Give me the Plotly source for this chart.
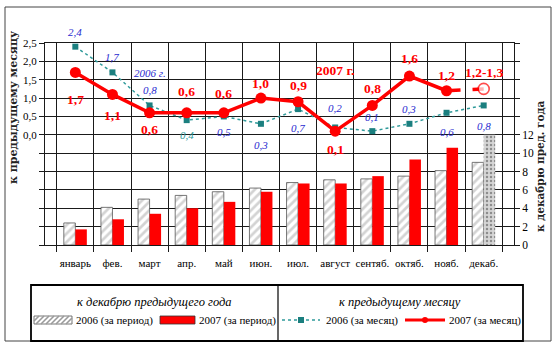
import plotly.graph_objects as go

# ---------------- data ----------------
months = ["январь", "фев.", "март", "апр.", "май", "июн.", "июл.", "август",
          "сентяб.", "октяб.", "нояб.", "декаб."]
cum_2006 = [2.4, 4.1, 5.0, 5.4, 5.8, 6.2, 6.8, 7.1, 7.2, 7.5, 8.1, 9.0]
cum_2007 = [1.7, 2.8, 3.4, 4.0, 4.7, 5.8, 6.7, 6.7, 7.5, 9.3, 10.6, 12.0]  # Dec = forecast
mom_2006 = [2.4, 1.7, 0.8, 0.4, 0.5, 0.3, 0.7, 0.2, 0.1, 0.3, 0.6, 0.8]
mom_2007 = [1.7, 1.1, 0.6, 0.6, 0.6, 1.0, 0.9, 0.1, 0.8, 1.6, 1.2, 1.25]  # Dec = forecast
labels_2006 = ["2,4", "1,7", "0,8", "0,4", "0,5", "0,3", "0,7", "0,2", "0,1", "0,3", "0,6", "0,8"]
labels_2007 = ["1,7", "1,1", "0,6", "0,6", "0,6", "1,0", "0,9", "0,1", "0,8", "1,6", "1,2", "1,2-1,3"]
left_ticks = [-3.0, -2.5, -2.0, -1.5, -1.0, -0.5, 0.0, 0.5, 1.0, 1.5, 2.0, 2.5]
left_ticktext = ["", "", "", "", "", "", "0,0", "0,5", "1,0", "1,5", "2,0", "2,5"]
right_ticks = [0, 2, 4, 6, 8, 10, 12, 14, 16, 18, 20, 22]
right_ticktext = ["0", "2", "4", "6", "8", "10", "12", "", "", "", "", ""]

# ---------------- style ----------------
W, H = 559, 344
PL, PT, PR, PB = 45, 43, 45, 99
PW, PH = W - PL - PR, H - PT - PB
SERIF = "Liberation Serif"
ITAL = "Liberation Serif"
RED = "#ff0000"
TEAL_L = "#2f9a9a"
TEAL_M = "#1b7f7f"
BLUE = "#2a2ad0"
off_2006 = [-15, -15, -15, 15, 16, 21, 19, -19, -14, -15, 19, 21]
col_2006 = [BLUE, BLUE, BLUE, TEAL_L, BLUE, BLUE, BLUE, BLUE, BLUE, BLUE, BLUE, BLUE]
off_2007 = [27, 21, 17, -21, -19, -15, -16, 18, -17, -18, -15, -16]


def fx(px):
    return (px - PL) / PW


def fy(py):
    return (PT + PH - py) / PH


n = len(months)
fig = go.Figure()

# cumulative bars (right axis)
fig.add_trace(go.Bar(
    x=months, y=cum_2006, name="2006 (за период)", yaxis="y", showlegend=False,
    marker=dict(color="white", line=dict(color="#555555", width=0.8),
                pattern=dict(shape="/", fgcolor="#a8a8a8", bgcolor="white",
                             size=6, solidity=0.45)),
))
col07 = [RED] * (n - 1) + ["#d6d6d6"]
pat07 = [""] * (n - 1) + ["."]
bg07 = [RED] * (n - 1) + ["#d9d9d9"]
fig.add_trace(go.Bar(
    x=months, y=cum_2007, name="2007 (за период)", yaxis="y", showlegend=False,
    marker=dict(color=col07, line=dict(width=0),
                pattern=dict(shape=pat07, fgcolor="#b0b0b0", bgcolor=bg07,
                             size=4, solidity=0.3)),
))

# monthly lines (left axis)
fig.add_trace(go.Scatter(
    x=months, y=mom_2006, yaxis="y2", mode="lines+markers", showlegend=False,
    line=dict(color=TEAL_L, width=1.5, dash="dot"),
    marker=dict(symbol="square", size=6, color=TEAL_M),
))
fig.add_trace(go.Scatter(
    x=months[n - 2:], y=mom_2007[n - 2:], yaxis="y2", mode="lines+markers", showlegend=False,
    line=dict(color=RED, width=3.5, dash="14px,12px"),
    marker=dict(symbol="circle", size=[0, 11], color=["white", "white"],
                line=dict(color=RED, width=[0, 1.6])),
))
fig.add_trace(go.Scatter(
    x=months[:n - 1], y=mom_2007[:n - 1], yaxis="y2", mode="lines+markers", showlegend=False,
    line=dict(color=RED, width=3.5),
    marker=dict(symbol="circle", size=11, color=RED),
))

ann = []
for i in range(n):
    ann.append(dict(x=months[i], y=mom_2006[i], xref="x", yref="y2", text=labels_2006[i],
                    showarrow=False, yshift=-off_2006[i],
                    font=dict(family=ITAL, size=11, color=col_2006[i], style="italic")))
    ann.append(dict(x=months[i], y=mom_2007[i], xref="x", yref="y2", text=labels_2007[i],
                    showarrow=False, yshift=-off_2007[i],
                    font=dict(family=SERIF, size=13.5, color=RED, weight="bold")))
ann.append(dict(x=months[2], y=mom_2006[2], xref="x", yref="y2", text="2006 г.",
                showarrow=False, yshift=32,
                font=dict(family=ITAL, size=11, color=BLUE, style="italic")))
ann.append(dict(x=months[7], y=mom_2007[7], xref="x", yref="y2", text="2007 г.",
                showarrow=False, yshift=61,
                font=dict(family=SERIF, size=13.5, color=RED, weight="bold")))


def pann(px, py, text, font, angle=0, xanchor="center"):
    return dict(x=fx(px), y=fy(py), xref="paper", yref="paper", text=text,
                textangle=angle, showarrow=False, xanchor=xanchor, yanchor="middle",
                font=font)


# axis titles
ann.append(pann(14, 108, "к предыдущему месяцу",
                dict(family="DejaVu Serif", size=11, color="#222", weight="bold"), angle=-90))
ann.append(pann(540, 166, "к декабрю пред. года",
                dict(family="DejaVu Serif", size=10.5, color="#222", weight="bold"), angle=-90))

# legend texts
LY = 320
ann.append(pann(154, 302, "к декабрю предыдущего года",
                dict(family=SERIF, size=12.5, color="black", style="italic")))
ann.append(pann(400, 302, "к предыдущему месяцу",
                dict(family=SERIF, size=12.5, color="black", style="italic")))
for xt, t in [(74, "2006 (за период)"), (197, "2007 (за период)"),
              (324, "2006 (за месяц)"), (447, "2007 (за месяц)")]:
    ann.append(pann(xt, LY, t, dict(family=SERIF, size=11, color="black"), xanchor="left"))

shapes = []
# outer frame
shapes.append(dict(type="rect", xref="paper", yref="paper", x0=fx(5), x1=fx(551),
                   y0=fy(341), y1=fy(7), line=dict(color="#444", width=1)))
# legend box
shapes.append(dict(type="rect", xref="paper", yref="paper", x0=fx(31), x1=fx(523),
                   y0=fy(341), y1=fy(285), line=dict(color="black", width=1.8)))
shapes.append(dict(type="line", xref="paper", yref="paper", x0=fx(278), x1=fx(278),
                   y0=fy(341), y1=fy(285), line=dict(color="black", width=1.2)))
# hatched swatch
sx0, sx1, sy0, sy1 = 34, 72, 316, 324
shapes.append(dict(type="rect", xref="paper", yref="paper", x0=fx(sx0), x1=fx(sx1),
                   y0=fy(sy1), y1=fy(sy0), fillcolor="white", line=dict(color="#555", width=0.8)))
hh = sy1 - sy0
s = sx0 - hh
path = ""
while s < sx1:
    xa, ya = s, sy1
    xb, yb = s + hh, sy0
    if xa < sx0:
        ya = sy1 - (sx0 - xa)
        xa = sx0
    if xb > sx1:
        yb = sy0 + (xb - sx1)
        xb = sx1
    if xb > xa:
        path += f"M{fx(xa)},{fy(ya)} L{fx(xb)},{fy(yb)} "
    s += 5
shapes.append(dict(type="path", xref="paper", yref="paper", path=path,
                   line=dict(color="#9a9a9a", width=1.6)))
# red swatch
shapes.append(dict(type="rect", xref="paper", yref="paper", x0=fx(160), x1=fx(195),
                   y0=fy(sy1), y1=fy(sy0), fillcolor=RED, line=dict(color="#333", width=0.8)))
# teal line swatch
shapes.append(dict(type="line", xref="paper", yref="paper", x0=fx(282), x1=fx(320),
                   y0=fy(LY), y1=fy(LY), line=dict(color=TEAL_L, width=1.5, dash="dot")))
shapes.append(dict(type="rect", xref="paper", yref="paper", x0=fx(298), x1=fx(304),
                   y0=fy(LY + 3), y1=fy(LY - 3), fillcolor=TEAL_M, line=dict(width=0)))
# red line swatch
shapes.append(dict(type="line", xref="paper", yref="paper", x0=fx(405), x1=fx(445),
                   y0=fy(LY), y1=fy(LY), line=dict(color=RED, width=3)))
shapes.append(dict(type="circle", xref="paper", yref="paper", x0=fx(422), x1=fx(428),
                   y0=fy(LY + 3), y1=fy(LY - 3), fillcolor=RED, line=dict(width=0)))

fig.update_layout(
    width=W, height=H, margin=dict(l=PL, r=PR, t=PT, b=PB),
    paper_bgcolor="white", plot_bgcolor="white",
    font=dict(family=SERIF),
    barmode="group", bargap=0.38, bargroupgap=0,
    showlegend=False,
    xaxis=dict(type="category", tickson="boundaries", showgrid=True, gridcolor="#1a1a1a",
               gridwidth=1, ticks="outside", ticklen=6, tickcolor="#1a1a1a", tickangle=0,
               ticklabelstandoff=8,
               showline=True, linecolor="#1a1a1a", mirror=True,
               tickfont=dict(family=SERIF, size=11, color="black")),
    yaxis=dict(side="right", range=[0, 22], tickvals=right_ticks, ticktext=right_ticktext,
               showgrid=True, gridcolor="#1a1a1a", gridwidth=1, zeroline=False,
               ticks="outside", ticklen=5, tickcolor="#1a1a1a",
               showline=True, linecolor="#1a1a1a",
               tickfont=dict(family=SERIF, size=11.5, color="black")),
    yaxis2=dict(side="left", overlaying="y", range=[-3.0, 2.5], tickvals=left_ticks,
                ticktext=left_ticktext, showgrid=False, zeroline=False,
                ticks="outside", ticklen=5, tickcolor="#1a1a1a",
                showline=True, linecolor="#1a1a1a",
                tickfont=dict(family=SERIF, size=11, color="black")),
    annotations=ann, shapes=shapes,
)

fig.write_html("out.html")
